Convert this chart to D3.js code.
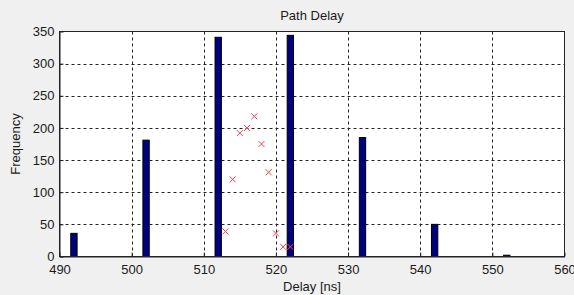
<!DOCTYPE html>
<html lang="en">
    <head>
        <meta charset="utf-8">
        <title>Path Delay</title>
        <script type="text/javascript" src="https://d3js.org/d3.v7.min.js"></script>
        <style>
            body {
                margin: 0;
                background: #f0f0f0;
            }
            text {
                font-family: "Liberation Sans", Arial, sans-serif;
                font-size: 13px;
                fill: #1a1a1a;
            }
            .grid line {
                stroke: #222;
                stroke-dasharray: 3, 3;
                stroke-width: 1;
            }
            .axis path, .axis line {
                stroke: #222;
            }
        </style>
    </head>
    <body>
        <div id="chart"></div>
        <script type="text/javascript">
            //histogram bars
            let barDelays = [492, 502, 512, 522, 532, 542, 552];
            let barCounts = [36, 181, 341, 344, 185, 50, 2];

            //red cross markers
            let markDelays = [513, 514, 515, 516, 517, 518, 519, 520, 521, 522];
            let markCounts = [39, 120, 192, 200, 218, 175, 131, 36, 15, 15];

            let xTicks = [490, 500, 510, 520, 530, 540, 550, 560];
            let yTicks = [0, 50, 100, 150, 200, 250, 300, 350];

            let w = 574, h = 295;
            let mLeft = 59.5, mRight = 564.5, mTop = 31.5, mBottom = 256.5;

            let xScale = d3.scaleLinear().domain([490, 560]).range([mLeft, mRight]);
            let yScale = d3.scaleLinear().domain([0, 350]).range([mBottom, mTop]);

            let svg = d3.select("#chart")
                        .append("svg")
                        .attr("width", w)
                        .attr("height", h);

            svg.append("rect")
                .attr("x", mLeft)
                .attr("y", mTop)
                .attr("width", mRight - mLeft)
                .attr("height", mBottom - mTop)
                .attr("fill", "white");

            //grid lines
            let grid = svg.append("g").attr("class", "grid");
            grid.selectAll(".gx")
                .data(xTicks.slice(1, -1))
                .enter()
                .append("line")
                .attr("x1", d => Math.round(xScale(d)) + 0.5)
                .attr("x2", d => Math.round(xScale(d)) + 0.5)
                .attr("y1", mTop)
                .attr("y2", mBottom);
            grid.selectAll(".gy")
                .data(yTicks.slice(1, -1))
                .enter()
                .append("line")
                .attr("x1", mLeft)
                .attr("x2", mRight)
                .attr("y1", d => Math.round(yScale(d)) + 0.5)
                .attr("y2", d => Math.round(yScale(d)) + 0.5);

            //bars
            let barW = 0.88;
            svg.selectAll(".bar")
                .data(barDelays)
                .enter()
                .append("rect")
                .attr("class", "bar")
                .attr("x", d => xScale(d - barW / 2))
                .attr("y", (d, i) => yScale(barCounts[i]))
                .attr("width", xScale(barW) - xScale(0))
                .attr("height", (d, i) => yScale(0) - yScale(barCounts[i]))
                .attr("fill", "#000080")
                .attr("stroke", "#000")
                .attr("stroke-width", 1);

            //cross markers
            let s = 3;
            svg.selectAll(".mark")
                .data(markDelays)
                .enter()
                .append("path")
                .attr("class", "mark")
                .attr("d", (d, i) => {
                    let cx = xScale(d), cy = yScale(markCounts[i]);
                    return `M${cx - s},${cy - s}L${cx + s},${cy + s}M${cx - s},${cy + s}L${cx + s},${cy - s}`;
                })
                .attr("stroke", "#ff4040")
                .attr("stroke-width", 1)
                .attr("fill", "none");

            //axes
            svg.append("g")
                .attr("class", "axis")
                .attr("transform", `translate(0, ${mBottom})`)
                .call(d3.axisBottom(xScale).tickValues(xTicks).tickSize(-4).tickPadding(8).tickSizeOuter(0));
            svg.append("g")
                .attr("class", "axis")
                .attr("transform", `translate(${mLeft}, 0)`)
                .call(d3.axisLeft(yScale).tickValues(yTicks).tickSize(-4).tickPadding(5).tickSizeOuter(0));
            svg.selectAll(".axis text").style("font-size", "13px").attr("fill", "#1a1a1a");

            //box
            svg.append("rect")
                .attr("x", mLeft)
                .attr("y", mTop)
                .attr("width", mRight - mLeft)
                .attr("height", mBottom - mTop)
                .attr("fill", "none")
                .attr("stroke", "#222");

            //labels
            svg.append("text")
                .attr("x", (mLeft + mRight) / 2)
                .attr("y", 20)
                .attr("text-anchor", "middle")
                .text("Path Delay");
            svg.append("text")
                .attr("x", (mLeft + mRight) / 2)
                .attr("y", 291)
                .attr("text-anchor", "middle")
                .text("Delay [ns]");
            svg.append("text")
                .attr("transform", `translate(20, ${(mTop + mBottom) / 2}) rotate(-90)`)
                .attr("text-anchor", "middle")
                .text("Frequency");
        </script>
    </body>
</html>
